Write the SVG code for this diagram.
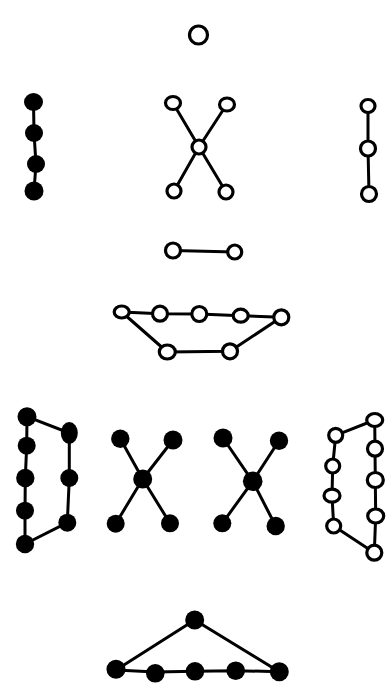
<svg xmlns="http://www.w3.org/2000/svg" width="392" height="686" viewBox="0 0 392 686">
<style>
.e{fill:none;stroke:#000;stroke-width:3;stroke-linejoin:round;stroke-linecap:round}
.w{fill:#fff;stroke:#000;stroke-width:3.2}
.b{fill:#000;stroke:none}
</style>
<rect width="392" height="686" fill="#fff"/>
<g id="connectors">
<path class="e" d="M33.5 102L34 133L36 164L34 191"/>
<path class="e" d="M173 103L199 147L226 192M227 104L199 147L174 191"/>
<path class="e" d="M368 106L368 148L369 194"/>
<path class="e" d="M173 250.500L234.700 252"/>
<path class="e" d="M121.700 312L160 313.700L199.300 314L240.700 315.700L281.300 317.300L230 351.300L167.300 352Z"/>
<path class="e" d="M27 416.700L26.700 445.700L25.300 478L25 510.700L25 544L67.300 522.700L69.300 478L69.300 433Z"/>
<path class="e" d="M120.300 438.700L142.700 479L170 523.300M173 440L142.700 479L115.700 523.700"/>
<path class="e" d="M223 438L252.700 481.300L275.700 526M279 440.700L252.700 481.300L222.300 523.300"/>
<path class="e" d="M374.700 420L335.700 435.300L332.700 466L332 495.700L333.700 526L374.300 552.700L375.700 516L375.300 480L375 448.700Z"/>
<path class="e" d="M194.700 620L116 670L155.300 672L195 671.300L235.700 670.700L279.300 671.700Z"/>
</g>
<g id="n1"><circle class="w" cx="198.500" cy="35" r="9"/></g>
<g id="chain-black">
<ellipse class="b" cx="33.500" cy="102" rx="9.500" ry="9"/><circle class="b" cx="34" cy="133" r="9"/><circle class="b" cx="36" cy="164" r="9"/><circle class="b" cx="34" cy="191" r="9.500"/>
</g>
<g id="x-white">
<ellipse class="w" cx="173" cy="103" rx="7.500" ry="6.500"/><ellipse class="w" cx="227" cy="104.500" rx="7.500" ry="6.500"/><circle class="w" cx="199" cy="147" r="7"/><circle class="w" cx="174" cy="191" r="7"/><circle class="w" cx="226" cy="192" r="7"/>
</g>
<g id="chain-white">
<ellipse class="w" cx="368" cy="106" rx="7" ry="6.500"/><circle class="w" cx="368" cy="148.500" r="7.500"/><circle class="w" cx="369" cy="194" r="7.500"/>
</g>
<g id="pair">
<circle class="w" cx="173" cy="250.500" r="7.500"/><circle class="w" cx="234.700" cy="252" r="7"/>
</g>
<g id="ring-white-h">
<ellipse class="w" cx="121.700" cy="312" rx="7.500" ry="6"/><circle class="w" cx="160" cy="313.700" r="7.500"/><circle class="w" cx="199.300" cy="314" r="7.500"/><ellipse class="w" cx="240.700" cy="315.700" rx="7.500" ry="6.500"/><circle class="w" cx="281.300" cy="317.300" r="7.500"/><circle class="w" cx="230" cy="351.300" r="7.500"/><ellipse class="w" cx="167.300" cy="352" rx="8" ry="7"/>
</g>
<g id="ring-black">
<circle class="b" cx="27" cy="416.700" r="9.500"/><circle class="b" cx="26.700" cy="445.700" r="9"/><circle class="b" cx="25.300" cy="478" r="9.200"/><circle class="b" cx="25" cy="510.700" r="9"/><circle class="b" cx="25" cy="544" r="9.200"/><ellipse class="b" cx="69.300" cy="433" rx="8.500" ry="11"/><circle class="b" cx="69.300" cy="478" r="9"/><circle class="b" cx="67.300" cy="522.700" r="9"/>
</g>
<g id="x-black-1">
<circle class="b" cx="120.300" cy="438.700" r="9.200"/><circle class="b" cx="173" cy="440" r="9.500"/><circle class="b" cx="142.700" cy="479" r="9.500"/><circle class="b" cx="115.700" cy="523.700" r="9"/><circle class="b" cx="170" cy="523.300" r="9"/>
</g>
<g id="x-black-2">
<circle class="b" cx="223" cy="438" r="9.500"/><circle class="b" cx="279" cy="440.700" r="9.200"/><circle class="b" cx="252.700" cy="481.300" r="9.800"/><circle class="b" cx="222.300" cy="523.300" r="9"/><circle class="b" cx="275.700" cy="526" r="9.200"/>
</g>
<g id="ring-white-v">
<ellipse class="w" cx="374.700" cy="420" rx="8" ry="6.500"/><circle class="w" cx="335.700" cy="435.300" r="7"/><circle class="w" cx="332.700" cy="466" r="7"/><ellipse class="w" cx="332" cy="495.700" rx="8" ry="6.500"/><circle class="w" cx="333.700" cy="526" r="7"/><circle class="w" cx="375" cy="448.700" r="7.500"/><ellipse class="w" cx="375.300" cy="480" rx="8" ry="7.500"/><ellipse class="w" cx="375.700" cy="516" rx="8" ry="7"/><circle class="w" cx="374.300" cy="552.700" r="7.500"/>
</g>
<g id="ring-black-h">
<circle class="b" cx="194.700" cy="620" r="9.500"/><circle class="b" cx="116" cy="669.300" r="9.500"/><circle class="b" cx="155.300" cy="673.300" r="9.300"/><circle class="b" cx="195" cy="671.300" r="9.300"/><circle class="b" cx="235.700" cy="670.700" r="9.300"/><circle class="b" cx="279.300" cy="671.700" r="9.500"/>
</g>
</svg>
